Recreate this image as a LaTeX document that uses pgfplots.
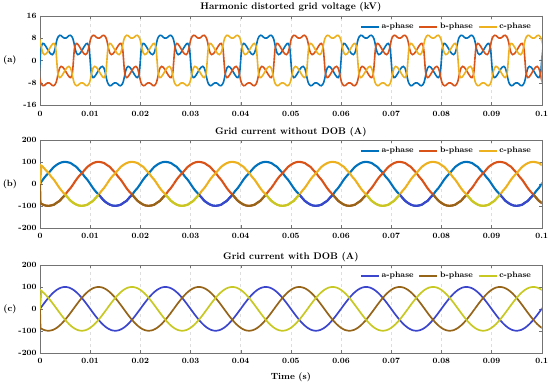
\documentclass[border=0pt]{standalone}
\usepackage{pgfplots}
\usepackage{pgfplotstable}
\pgfplotsset{compat=1.18}
\definecolor{cA}{RGB}{0,114,189}
\definecolor{cB}{RGB}{217,83,25}
\definecolor{cC}{RGB}{237,177,32}
\definecolor{dA}{RGB}{60,70,205}
\definecolor{dB}{RGB}{150,100,25}
\definecolor{dC}{RGB}{200,200,35}

% one period of the a-phase voltage (kV) versus phase angle (deg)
\pgfplotstableread{
deg v
0 0
3 3.8
6 5.4
10 6.1
14 6.0
20 5.2
26 4.2
32 3.2
38 2.4
44 2.1
49 2.6
54 4.2
58 6.2
62 7.8
66 8.6
71 9.0
76 8.9
81 8.4
86 8.05
90 8.0
94 8.05
99 8.4
104 8.9
109 9.0
114 8.6
118 7.8
122 6.2
126 4.2
131 2.6
136 2.1
142 2.4
148 3.2
154 4.2
160 5.2
166 6.0
170 6.1
174 5.4
177 3.8
180 0
183 -3.8
186 -5.4
190 -6.1
194 -6.0
200 -5.2
206 -4.2
212 -3.2
218 -2.4
224 -2.1
229 -2.6
234 -4.2
238 -6.2
242 -7.8
246 -8.6
251 -9.0
256 -8.9
261 -8.4
266 -8.05
270 -8.0
274 -8.05
279 -8.4
284 -8.9
289 -9.0
294 -8.6
298 -7.8
302 -6.2
306 -4.2
311 -2.6
316 -2.1
322 -2.4
328 -3.2
334 -4.2
340 -5.2
346 -6.0
350 -6.1
354 -5.4
357 -3.8
360 0
}\vtab

% one period of the a-phase current without DOB (A)
\pgfplotstableread{
deg v
0 0
10 19.0
20 35.0
30 48.5
40 63.0
50 77.5
60 87.0
70 94.5
80 99.0
90 100.5
100 98.5
110 95.0
120 86.0
130 78.0
140 63.5
150 50.5
160 33.0
170 18.5
180 0
190 -19.0
200 -35.0
210 -48.5
220 -63.0
230 -77.5
240 -87.0
250 -94.5
260 -99.0
270 -100.5
280 -98.5
290 -95.0
300 -86.0
310 -78.0
320 -63.5
330 -50.5
340 -33.0
350 -18.5
360 0
}\itab

% one period of the a-phase current with DOB (A)
\pgfplotstableread{
deg v
0 0
15 25.9
30 50
45 70.7
60 86.6
75 96.6
90 100
105 96.6
120 86.6
135 70.7
150 50
165 25.9
180 0
195 -25.9
210 -50
225 -70.7
240 -86.6
255 -96.6
270 -100
285 -96.6
300 -86.6
315 -70.7
330 -50
345 -25.9
360 0
}\stab

\pgfplotsset{
  every axis title shift=0pt,
  panel/.style={
    scale only axis, width=501.7pt,
    xmin=0, xmax=100,
    xtick={0,10,...,100},
    xticklabels={0,0.01,0.02,0.03,0.04,0.05,0.06,0.07,0.08,0.09,0.1},
    tick align=inside,
    major tick length=3pt,
    ticklabel style={font=\bfseries\fontsize{8}{9}\selectfont},
    xticklabel style={yshift=-2pt},
    axis line style={black!55},
    tick style={black!55},
    xmajorgrids,
    major grid style={black!13, dashed},
    title style={font=\bfseries\fontsize{9.6}{11}\selectfont},
    legend columns=3,
    legend style={at={(0.985,0.875)}, anchor=east, draw=none, fill=white,
      font=\bfseries\fontsize{8}{9}\selectfont, inner sep=1pt,
      /tikz/every even column/.append style={column sep=3pt}},
    legend image code/.code={\draw[#1] (0pt,0pt) -- (18pt,0pt);},
  },
  plab/.style={after end axis/.append code={
    \node[font=\bfseries\fontsize{9}{10}\selectfont] at (rel axis cs:-0.06,0.5) {#1};}},
}

\begin{document}
\begin{tikzpicture}
\useasboundingbox (0,0) rectangle (550pt,384pt);

% (a) voltage
\begin{axis}[panel, plab={(a)}, at={(40pt,278.7pt)}, anchor=south west, height=89.6pt,
  ymin=-16, ymax=16, ytick={-16,-8,0,8,16}, yticklabels={-16,-8,0,8,16},
  title={Harmonic distorted grid voltage (kV)}]
\pgfplotsinvokeforeach{-1,...,5}{
  \addplot[cA, line width=1.6pt, smooth, forget plot] table[x expr=\thisrow{deg}/18+20*(#1), y=v]{\vtab};
  \addplot[cB, line width=1.6pt, smooth, forget plot] table[x expr=\thisrow{deg}/18+20*(#1)+6.66667, y=v]{\vtab};
  \addplot[cC, line width=1.6pt, smooth, forget plot] table[x expr=\thisrow{deg}/18+20*(#1)-6.66667, y=v]{\vtab};
}
\addlegendimage{cA, line width=1.5pt}\addlegendentry{a-phase}
\addlegendimage{cB, line width=1.5pt}\addlegendentry{b-phase}
\addlegendimage{cC, line width=1.5pt}\addlegendentry{c-phase}
\end{axis}

% (b) current without DOB
\begin{axis}[panel, plab={(b)}, at={(40pt,156.3pt)}, anchor=south west, height=87.7pt,
  ymin=-200, ymax=200, ytick={-200,-100,0,100,200}, yticklabels={-200,-100,0,100,200},
  title={Grid current without DOB (A)}]
\pgfplotsinvokeforeach{-1,...,5}{
  \addplot[cA, line width=2.1pt, smooth, forget plot] table[x expr=\thisrow{deg}/18+20*(#1), y=v]{\itab};
  \addplot[cB, line width=2.1pt, smooth, forget plot] table[x expr=\thisrow{deg}/18+20*(#1)+6.66667, y=v]{\itab};
  \addplot[cC, line width=2.1pt, smooth, forget plot] table[x expr=\thisrow{deg}/18+20*(#1)-6.66667, y=v]{\itab};
  \addplot[dA, line width=2.1pt, smooth, forget plot, restrict y to domain=-200:-45] table[x expr=\thisrow{deg}/18+20*(#1), y=v]{\itab};
  \addplot[dB, line width=2.1pt, smooth, forget plot, restrict y to domain=-200:-45] table[x expr=\thisrow{deg}/18+20*(#1)+6.66667, y=v]{\itab};
  \addplot[dC, line width=2.1pt, smooth, forget plot, restrict y to domain=-200:-45] table[x expr=\thisrow{deg}/18+20*(#1)-6.66667, y=v]{\itab};
}
\addplot[dB, line width=2.1pt, forget plot] coordinates {(0,0) (0.1,-86)};
\addplot[cC, line width=2.1pt, forget plot] coordinates {(0,0) (0.3,85)};
\addlegendimage{cA, line width=1.5pt}\addlegendentry{a-phase}
\addlegendimage{cB, line width=1.5pt}\addlegendentry{b-phase}
\addlegendimage{cC, line width=1.5pt}\addlegendentry{c-phase}
\end{axis}

% (c) current with DOB
\begin{axis}[panel, plab={(c)}, at={(40pt,31.3pt)}, anchor=south west, height=87.7pt,
  ymin=-200, ymax=200, ytick={-200,-100,0,100,200}, yticklabels={-200,-100,0,100,200},
  title={Grid current with DOB (A)},
  xlabel={Time (s)}, xlabel style={font=\bfseries\fontsize{9}{10}\selectfont, yshift=-2pt}]
\pgfplotsinvokeforeach{-1,...,5}{
  \addplot[dA, line width=1.7pt, smooth, forget plot] table[x expr=\thisrow{deg}/18+20*(#1), y=v]{\stab};
  \addplot[dB, line width=1.7pt, smooth, forget plot] table[x expr=\thisrow{deg}/18+20*(#1)+6.66667, y=v]{\stab};
  \addplot[dC, line width=1.7pt, smooth, forget plot] table[x expr=\thisrow{deg}/18+20*(#1)-6.66667, y=v]{\stab};
}
\addplot[dB, line width=1.7pt, forget plot] coordinates {(0,0) (0.1,-86)};
\addplot[dC, line width=1.7pt, forget plot] coordinates {(0,0) (0.3,85)};
\addlegendimage{dA, line width=1.5pt}\addlegendentry{a-phase}
\addlegendimage{dB, line width=1.5pt}\addlegendentry{b-phase}
\addlegendimage{dC, line width=1.5pt}\addlegendentry{c-phase}
\end{axis}
\end{tikzpicture}
\end{document}
